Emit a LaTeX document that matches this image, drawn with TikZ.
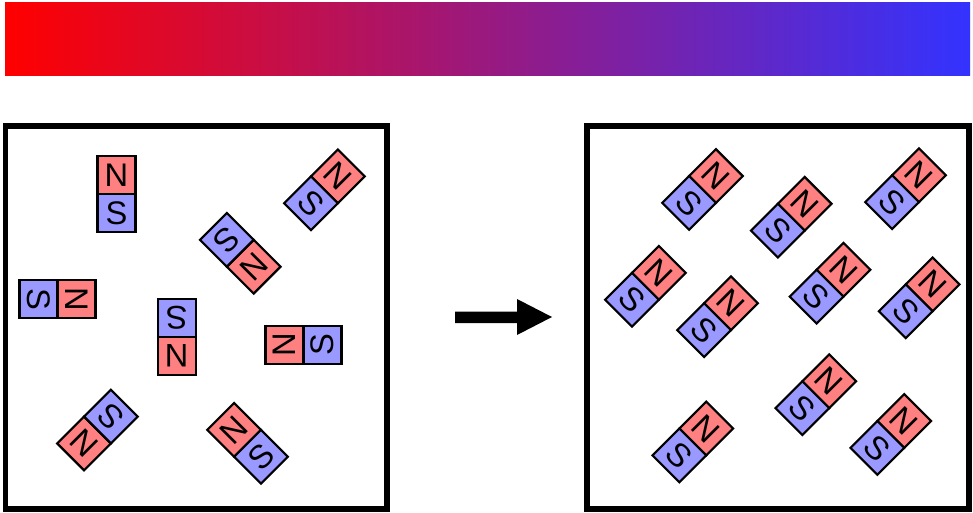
\documentclass[tikz,border=0pt]{standalone}
\usepackage{fontspec}
\setmainfont{Liberation Sans}
\definecolor{npink}{RGB}{255,128,128}
\definecolor{sblue}{RGB}{153,153,255}
\definecolor{barblue}{RGB}{51,51,255}
\newcommand{\mymagnet}[4]{%
  \begin{scope}[shift={(#2,#3)}, rotate=#4, transform shape]
    \node[npole] (#1n) at (0,-19) {N};
    \node[spole] (#1s) at (0,19) {S};
  \end{scope}}
\tikzset{
  pole/.style={draw=black, line width=1.6pt, minimum size=28.5pt, inner sep=0pt, outer sep=0pt,
    font=\fontsize{24.5}{28}\selectfont},
  npole/.style={pole, fill=npink},
  spole/.style={pole, fill=sblue},
  frame/.style={draw=black, line width=4pt},
}
\begin{document}
\begin{tikzpicture}[x=0.75pt, y=-0.75pt]
\useasboundingbox (0,0) rectangle (973,513);
% gradient bar
\shade[left color=red, right color=barblue] (5,3) rectangle (970,75.5);
% frames
\draw[frame] (5.5,126) rectangle (387,509);
\draw[frame] (587,126) rectangle (969,509);
% arrow
\coordinate (a1) at (455,311.5);
\coordinate (a2) at (517,311.5);
\coordinate (a3) at (517,299);
\coordinate (a4) at (552,317);
\coordinate (a5) at (517,335);
\coordinate (a6) at (517,323);
\coordinate (a7) at (455,323);
\fill[black] (a1) -- (a2) -- (a3) -- (a4) -- (a5) -- (a6) -- (a7) -- cycle;
% left box magnets (random)
\mymagnet{l1}{116.5}{194}{0}
\mymagnet{l2}{57.5}{299}{-90}
\mymagnet{l3}{176.7}{336.7}{180}
\mymagnet{l4}{303.5}{345}{90}
\mymagnet{l5}{97.5}{430}{135}
\mymagnet{l6}{247.5}{443.3}{45}
\mymagnet{l7}{240.3}{253.2}{-135}
\mymagnet{l8}{324.5}{189.8}{-45}
% right box magnets (aligned)
\mymagnet{r1}{702.5}{189.5}{-45}
\mymagnet{r2}{791.2}{217.2}{-45}
\mymagnet{r3}{905.5}{188.7}{-45}
\mymagnet{r4}{645.5}{286.3}{-45}
\mymagnet{r5}{717.5}{316.7}{-45}
\mymagnet{r6}{830}{283.2}{-45}
\mymagnet{r7}{919.2}{297.8}{-45}
\mymagnet{r8}{692.8}{442}{-45}
\mymagnet{r9}{815.8}{394.7}{-45}
\mymagnet{r10}{890.8}{434.5}{-45}
\end{tikzpicture}
\end{document}
